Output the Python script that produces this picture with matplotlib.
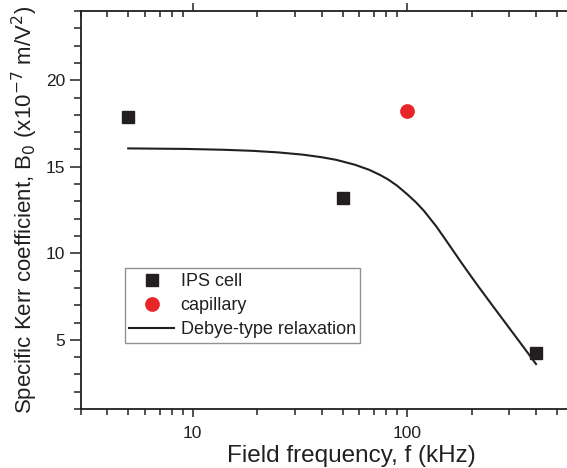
import matplotlib
matplotlib.use("Agg")
import matplotlib.pyplot as plt
from matplotlib.ticker import FixedLocator, LogLocator, MultipleLocator, NullFormatter

plt.rcParams['font.family'] = ['Liberation Sans', 'DejaVu Sans']

# ---------------------------
# Data
# ---------------------------
ips_freq = [5, 50, 400]          # kHz
ips_b0 = [17.85, 13.2, 4.25]     # x1e-7 m/V^2

cap_freq = [100]
cap_b0 = [18.2]

# Debye-type relaxation curve, traced point by point
debye_freq = [5, 9.3, 14, 19, 25, 32.6, 40, 46.7, 57, 66.7, 75, 82, 90, 100,
              110, 120, 137, 152, 165, 180, 200, 218, 240, 260, 285, 311, 350, 400]
debye_b0 = [16.06, 16.03, 15.98, 15.92, 15.83, 15.7, 15.55, 15.4, 15.12, 14.82, 14.52,
            14.25, 13.9, 13.42, 12.95, 12.45, 11.55, 10.75, 10.11, 9.43, 8.63, 7.99,
            7.29, 6.71, 6.05, 5.42, 4.57, 3.6]

x_ticks = [10, 100]
x_tick_labels = ['10', '100']
y_ticks = [5, 10, 15, 20]

# ---------------------------
# Figure
# ---------------------------
fig = plt.figure(figsize=(5.67, 4.68), dpi=100)
# the axes run past the right edge of the picture (cropped panel)
ax = fig.add_axes([0.1423, 0.126, 0.9535, 0.8505])

ax.plot(ips_freq, ips_b0, linestyle='none', marker='s', markersize=8.4,
        color='#231f20', label='IPS cell', zorder=3)
ax.plot(cap_freq, cap_b0, linestyle='none', marker='o', markersize=9.6,
        color='#e8262a', label='capillary', zorder=3)
ax.plot(debye_freq, debye_b0, color='#231f20', linewidth=1.5,
        label='Debye-type relaxation', zorder=2)

ax.set_xscale('log')
ax.set_xlim(3, 1000)
ax.set_ylim(1, 24)

ax.xaxis.set_major_locator(FixedLocator(x_ticks))
ax.set_xticks(x_ticks)
ax.set_xticklabels(x_tick_labels)
ax.xaxis.set_minor_locator(LogLocator(base=10, subs=range(2, 10)))
ax.xaxis.set_minor_formatter(NullFormatter())
ax.set_yticks(y_ticks)
ax.yaxis.set_minor_locator(MultipleLocator(1))

for side in ['left', 'bottom', 'top', 'right']:
    ax.spines[side].set_linewidth(1.3)
    ax.spines[side].set_color('#231f20')

ax.tick_params(axis='both', which='both', colors='#231f20', width=1.1,
               labelsize=12.5)
ax.tick_params(axis='y', which='major', direction='out', length=8, left=True, right=False)
ax.tick_params(axis='y', which='minor', direction='out', length=5, left=True, right=False)
ax.tick_params(axis='x', which='major', direction='out', length=6, bottom=True, top=True)
ax.tick_params(axis='x', which='minor', direction='out', length=4, bottom=True, top=True)
# mirrored ticks on top point inward
for t in ax.xaxis.get_major_ticks() + ax.xaxis.get_minor_ticks():
    t.tick2line.set_marker(3)
ax.tick_params(axis='x', which='major', pad=6)
ax.tick_params(axis='y', which='major', pad=3)

ax.set_xlabel('Field frequency, f (kHz)', fontsize=17.5, color='#231f20', labelpad=3)
ax.set_ylabel('Specific Kerr coefficient, B$_0$ (x10$^{-7}$ m/V$^2$)',
              fontsize=16, color='#231f20', labelpad=4)

leg = ax.legend(loc='lower left', bbox_to_anchor=(0.0813, 0.166), borderaxespad=0,
                fontsize=13, frameon=True, fancybox=False, handlelength=2.5,
                handletextpad=0.35, labelspacing=0.4, borderpad=0.25)
leg.get_frame().set_edgecolor('#777777')
leg.get_frame().set_linewidth(1.0)
for txt in leg.get_texts():
    txt.set_color('#231f20')

fig.savefig('out.png', dpi=100)
